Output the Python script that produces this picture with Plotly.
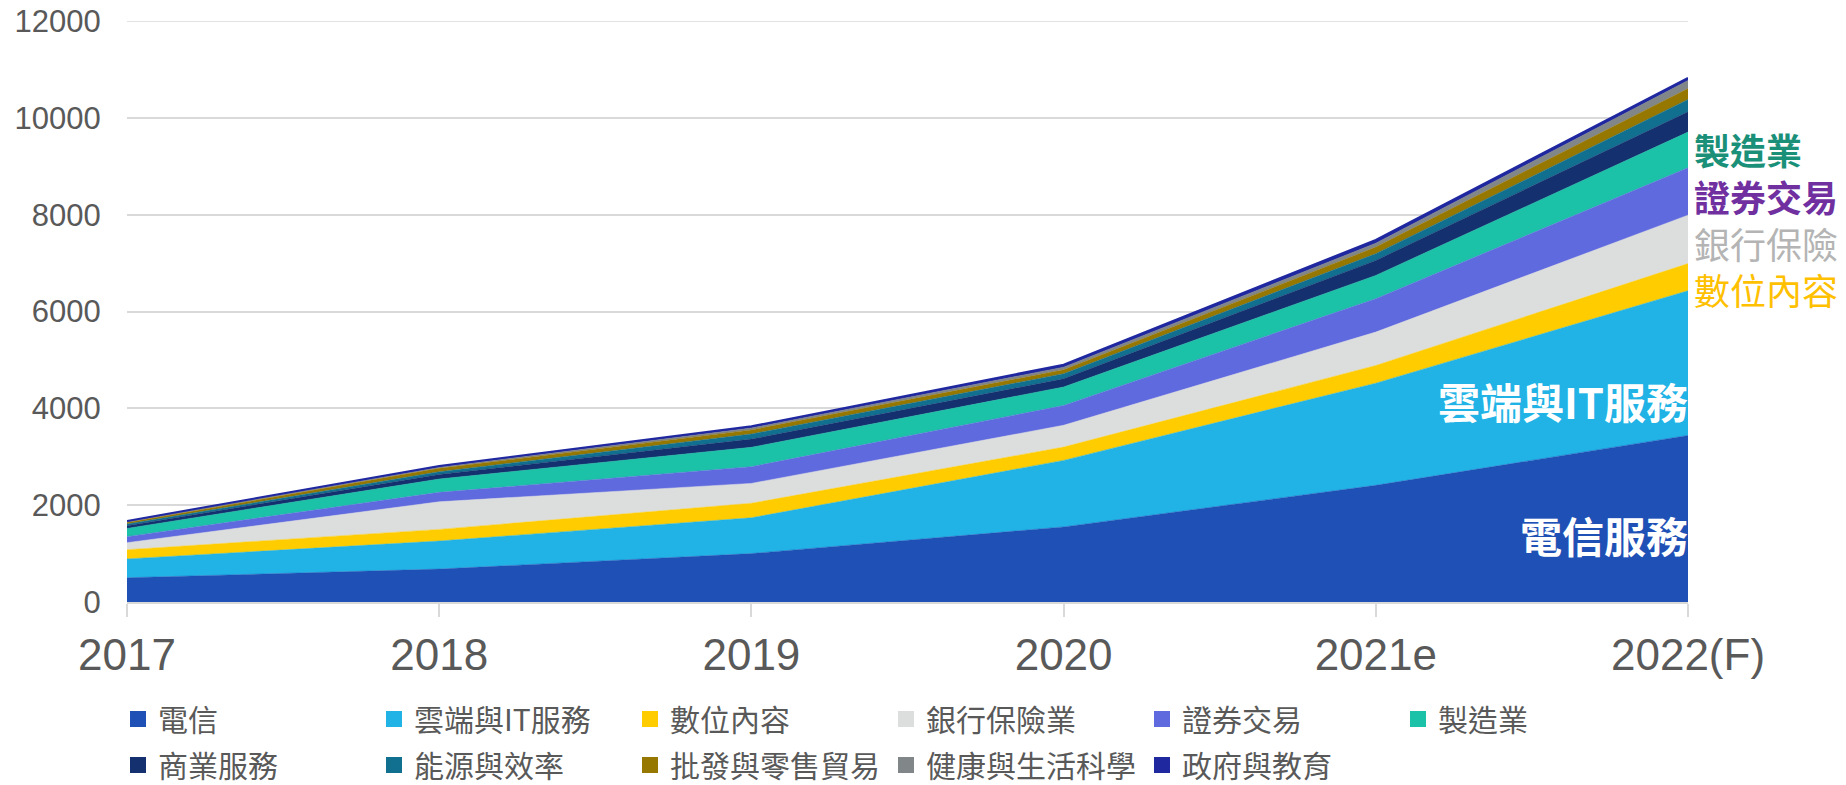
import plotly.graph_objects as go

years = ["2017", "2018", "2019", "2020", "2021e", "2022(F)"]

series_names = ["電信", "雲端與IT服務", "數位內容", "銀行保險業", "證券交易", "製造業",
                "商業服務", "能源與效率", "批發與零售貿易", "健康與生活科學", "政府與教育"]

telecom       = [500, 680, 1000, 1550, 2410, 3440]
cloud_it      = [390, 580, 740, 1375, 2110, 2990]
digital       = [190, 240, 300, 275, 365, 560]
banking       = [145, 570, 410, 450, 690, 1000]
securities    = [125, 195, 345, 410, 690, 980]
manufacturing = [170, 275, 400, 380, 480, 735]
business      = [55, 95, 170, 170, 310, 420]
energy        = [35, 55, 105, 105, 140, 255]
wholesale     = [30, 70, 85, 80, 135, 225]
health        = [20, 25, 40, 55, 80, 165]
government    = [15, 25, 35, 50, 70, 55]

series_values = [telecom, cloud_it, digital, banking, securities, manufacturing,
                 business, energy, wholesale, health, government]

colors = ["#1f50b5", "#21b2e6", "#ffcc00", "#dcdedd", "#606adf", "#1bc2a8",
          "#14306e", "#117090", "#967700", "#818688", "#2028a0"]

right_labels = ["製造業", "證券交易", "銀行保險", "數位內容"]
right_colors = ["#1a9079", "#7030a0", "#b4b4b4", "#ffc000"]
right_bold = [True, True, False, False]

inner_labels = ["雲端與IT服務", "電信服務"]

Y_MAX = 12000
GRID = "#d9d9d9"

FONT = "Liberation Sans, Arial, Noto Sans CJK TC, sans-serif"
CJK = "Noto Sans CJK TC, Liberation Sans, sans-serif"

# the page body has an 8px margin, so the figure is sized to fill the rest of the window
W, H = 1838, 777

xs = list(range(len(years)))

fig = go.Figure()
for i, (name, vals, col) in enumerate(zip(series_names, series_values, colors)):
    is_top = (i == len(series_names) - 1)
    fig.add_trace(go.Scatter(
        x=xs, y=vals, name=name, mode="lines", stackgroup="one",
        line=dict(color=col, width=2 if is_top else 0.5),
        fillcolor=col, showlegend=False, hoverinfo="skip"))

# legend proxies (square markers), split in two rows via two legends
for i, (name, col) in enumerate(zip(series_names, colors)):
    fig.add_trace(go.Scatter(
        x=[None], y=[None], mode="markers", name=name,
        marker=dict(symbol="square", size=17, color=col),
        legend="legend" if i < 6 else "legend2"))

legend_common = dict(
    orientation="h", xref="container", yref="container",
    xanchor="left", yanchor="middle", traceorder="normal",
    font=dict(family=CJK, size=30, color="#595959"),
    entrywidth=211, entrywidthmode="pixels",
    bgcolor="rgba(0,0,0,0)", itemclick=False, itemdoubleclick=False,
)

fig.update_layout(
    width=W, height=H,
    margin=dict(l=119, r=158, t=13, b=183, autoexpand=False),
    plot_bgcolor="white", paper_bgcolor="white",
    font=dict(family=FONT, color="#595959"),
    legend=dict(x=110/W, y=1 - 711/H, **legend_common),
    legend2=dict(x=110/W, y=1 - 757/H, **legend_common),
    xaxis=dict(
        tickmode="array", tickvals=xs, ticktext=years, range=[0, 5],
        showgrid=False, zeroline=False, showline=True, linecolor=GRID, linewidth=2,
        ticks="outside", ticklen=13, tickwidth=2, tickcolor=GRID,
        tickfont=dict(family=FONT, size=44, color="#595959"),
    ),
    yaxis=dict(
        range=[0, Y_MAX], dtick=2000, tick0=0, tickformat="d",
        showgrid=True, gridcolor=GRID, gridwidth=1.5,
        zeroline=False, showline=False, ticklabeloverflow="allow",
        ticks="outside", ticklen=19, tickcolor="rgba(0,0,0,0)",
        tickfont=dict(family=FONT, size=31, color="#595959"),
    ),
)

# top gridline (plotly drops grid lines lying on the plot edge)
fig.add_shape(type="line", xref="paper", yref="y", x0=0, x1=1, y0=Y_MAX, y1=Y_MAX,
              line=dict(color=GRID, width=1.5), layer="below")

PLOT_TOP, PLOT_BOTTOM = 13, H - 183


def paper_y(px):
    # px measured in page pixels; figure sits 8px down on the page
    return (PLOT_BOTTOM - (px - 8)) / (PLOT_BOTTOM - PLOT_TOP)


# right-side labels as one multi-line annotation
lines = []
for txt, col, bold in zip(right_labels, right_colors, right_bold):
    t = f"<b>{txt}</b>" if bold else txt
    lines.append(f"<span style='color:{col}'>{t}</span>")
fig.add_annotation(
    xref="paper", yref="paper", x=1.0, y=paper_y(219),
    xanchor="left", yanchor="middle", align="left", xshift=4, showarrow=False,
    text="<br>".join(lines),
    font=dict(family=CJK, size=36, color=right_colors[0]))

# inner white labels
for txt, yp in zip(inner_labels, [400, 534]):
    fig.add_annotation(
        xref="paper", yref="paper", x=1.0, y=paper_y(yp),
        xanchor="right", yanchor="middle", xshift=2, showarrow=False,
        text=f"<b>{txt}</b>", font=dict(family=CJK, size=42, color="white"))

fig.write_html("out.html")
